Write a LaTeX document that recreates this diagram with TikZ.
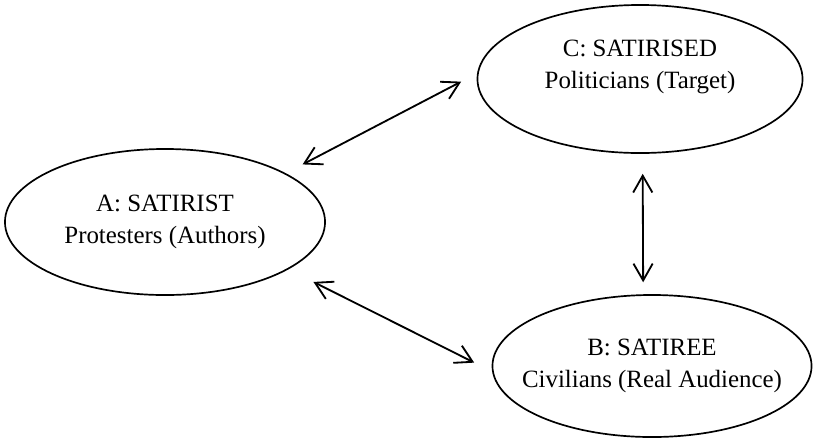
\documentclass[tikz,border=0pt]{standalone}
\usepackage{fontspec}
\setmainfont{Liberation Serif}
\usepackage{tikz}
\usetikzlibrary{shapes.geometric, arrows.meta}
\tikzstyle{diagram} = [x = .025cm, y = -.025cm]
\newcommand{\partyFont}{\fontsize{17.7}{22.8}\selectfont}
\tikzstyle{partyStyle} = [draw=black, ellipse, line width=1.2pt, inner sep=0pt]
\tikzstyle{partyText} = [font=\partyFont, align=center, inner sep=0pt]
\tikzstyle{linkStyle} = [{Straight Barb[length=4.2mm,width=4.8mm]}-{Straight Barb[length=4.2mm,width=4.8mm]}, line width=1.3pt]
\newcommand{\party}[5]{\node [partyStyle, minimum width=#4cm, minimum height=#5cm] (#1) at (#2,#3) {};}

\begin{document}
\begin{tikzpicture}[diagram]
  \useasboundingbox (0,0) rectangle (813,443);
  % the three parties
  \party{satirist}{165}{222}{8}{3.65}
  \party{satirised}{640}{79}{8.125}{3.7}
  \party{satiree}{652}{366}{7.975}{3.55}
  \node [partyText] (satiristText) at (satirist) {A: SATIRIST\\Protesters (Authors)};
  \node [partyText] (satirisedText) at (640,67) {C: SATIRISED\\Politicians (Target)};
  \node [partyText] (satireeText) at (satiree) {B: SATIREE\\Civilians (Real Audience)};
  % links
  \draw [linkStyle, shorten <=.475cm, shorten >=.45cm] (satirist.22) -- (satirised.178);
  \draw [linkStyle, shorten <=.7cm, shorten >=.5cm] (satirist.-21) -- (satiree.182);
  \draw [linkStyle, shorten <=.5cm, shorten >=.3cm] (satirised.-88) -- (satiree.97);
\end{tikzpicture}
\end{document}
